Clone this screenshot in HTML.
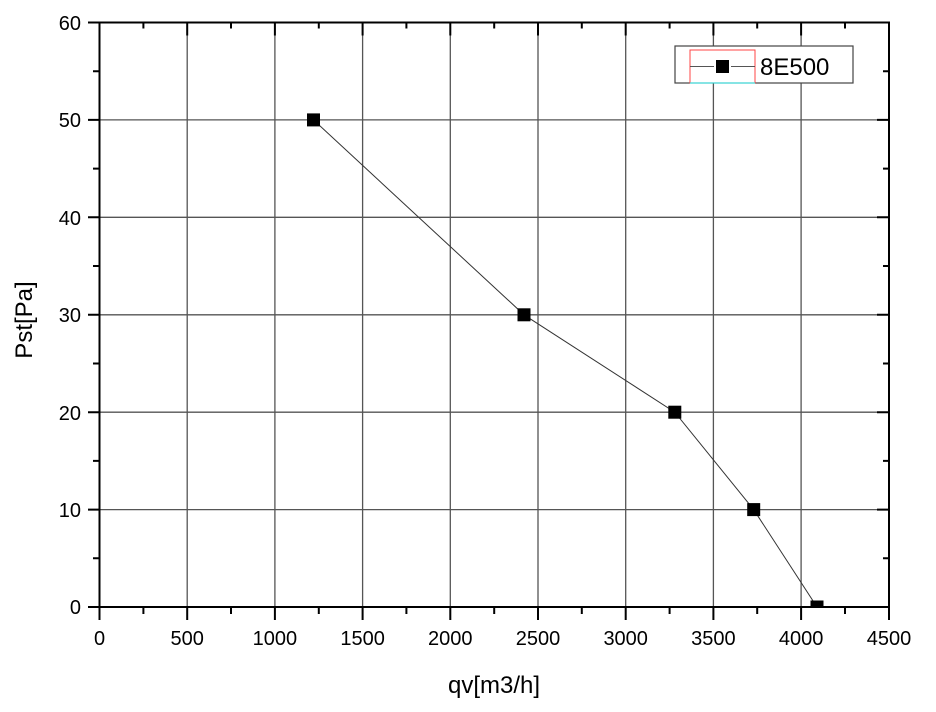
<!DOCTYPE html>
<html><head><style>body{margin:0;background:#fff}</style></head><body>
<svg width="936" height="707" xmlns="http://www.w3.org/2000/svg" font-family="Liberation Sans, Arial, sans-serif">
<rect width="936" height="707" fill="#fff"/>
<g stroke="#555" stroke-width="1.3">
<line x1="187.2" y1="22.5" x2="187.2" y2="607"/>
<line x1="274.9" y1="22.5" x2="274.9" y2="607"/>
<line x1="362.6" y1="22.5" x2="362.6" y2="607"/>
<line x1="450.3" y1="22.5" x2="450.3" y2="607"/>
<line x1="538" y1="22.5" x2="538" y2="607"/>
<line x1="625.7" y1="22.5" x2="625.7" y2="607"/>
<line x1="713.4" y1="22.5" x2="713.4" y2="607"/>
<line x1="801.1" y1="22.5" x2="801.1" y2="607"/>
<line x1="99.5" y1="119.9" x2="889" y2="119.9"/>
<line x1="99.5" y1="217.3" x2="889" y2="217.3"/>
<line x1="99.5" y1="314.8" x2="889" y2="314.8"/>
<line x1="99.5" y1="412.2" x2="889" y2="412.2"/>
<line x1="99.5" y1="509.6" x2="889" y2="509.6"/>
</g>
<rect x="99.5" y="22.5" width="789.5" height="584.5" fill="none" stroke="#000" stroke-width="2"/>
<g stroke="#000" stroke-width="2">
<path d="M99.5 607v13M187.2 607v13M274.9 607v13M362.6 607v13M450.3 607v13M538 607v13M625.7 607v13M713.4 607v13M801.1 607v13M889 607v13
M143.4 607v7M231 607v7M318.8 607v7M406.4 607v7M494.2 607v7M581.8 607v7M669.6 607v7M757.2 607v7M845 607v7
M99.5 22.5v13M187.2 22.5v13M274.9 22.5v13M362.6 22.5v13M450.3 22.5v13M538 22.5v13M625.7 22.5v13M713.4 22.5v13M801.1 22.5v13
M143.4 22.5v6M231 22.5v6M318.8 22.5v6M406.4 22.5v6M494.2 22.5v6M581.8 22.5v6M669.6 22.5v6M757.2 22.5v6M845 22.5v6
M88 22.5h12M88 119.9h12M88 217.3h12M88 314.8h12M88 412.2h12M88 509.6h12M88 607h12
M93 71.2h7M93 168.6h7M93 266h7M93 363.5h7M93 460.9h7M93 558.3h7
M889 119.9h-12M889 217.3h-12M889 314.8h-12M889 412.2h-12M889 509.6h-12
M889 71.2h-6M889 168.6h-6M889 266h-6M889 363.5h-6M889 460.9h-6M889 558.3h-6"/>
</g>
<g font-size="20" fill="#000" text-anchor="end">
<text x="81" y="30">60</text><text x="81" y="127">50</text><text x="81" y="225">40</text>
<text x="81" y="322">30</text><text x="81" y="420">20</text><text x="81" y="517">10</text><text x="81" y="614">0</text>
</g>
<g font-size="20" fill="#000" text-anchor="middle">
<text x="99.5" y="645">0</text><text x="187.2" y="645">500</text><text x="274.9" y="645">1000</text>
<text x="362.6" y="645">1500</text><text x="450.3" y="645">2000</text><text x="538" y="645">2500</text>
<text x="625.7" y="645">3000</text><text x="713.4" y="645">3500</text><text x="801.1" y="645">4000</text>
<text x="889" y="645">4500</text>
</g>
<text x="494" y="693" font-size="24" text-anchor="middle">qv[m3/h]</text>
<text transform="translate(32,320) rotate(-90)" font-size="24" text-anchor="middle">Pst[Pa]</text>
<svg x="0" y="0" width="936" height="607" overflow="hidden">
<polyline points="313.5,119.9 524,314.8 674.8,412.2 753.7,509.6 817,607" fill="none" stroke="#333" stroke-width="1"/>
<g fill="#000">
<rect x="307" y="113.4" width="13" height="13"/>
<rect x="517.5" y="308.3" width="13" height="13"/>
<rect x="668.3" y="405.7" width="13" height="13"/>
<rect x="747.2" y="503.1" width="13" height="13"/>
<rect x="810.5" y="600.5" width="13" height="13"/>
</g>
</svg>
<rect x="675" y="46" width="178" height="37" fill="#fff" stroke="#444" stroke-width="1.2"/>
<rect x="690" y="50" width="65" height="33" fill="none" stroke="#f44" stroke-width="1"/>
<line x1="690" y1="83" x2="755" y2="83" stroke="#3ee" stroke-width="1"/>
<line x1="690" y1="66.5" x2="714" y2="66.5" stroke="#555" stroke-width="1"/>
<line x1="731" y1="66.5" x2="755" y2="66.5" stroke="#555" stroke-width="1"/>
<rect x="716" y="60" width="13" height="13" fill="#000"/>
<text x="760" y="75" font-size="24">8E500</text>
</svg>
</body></html>
